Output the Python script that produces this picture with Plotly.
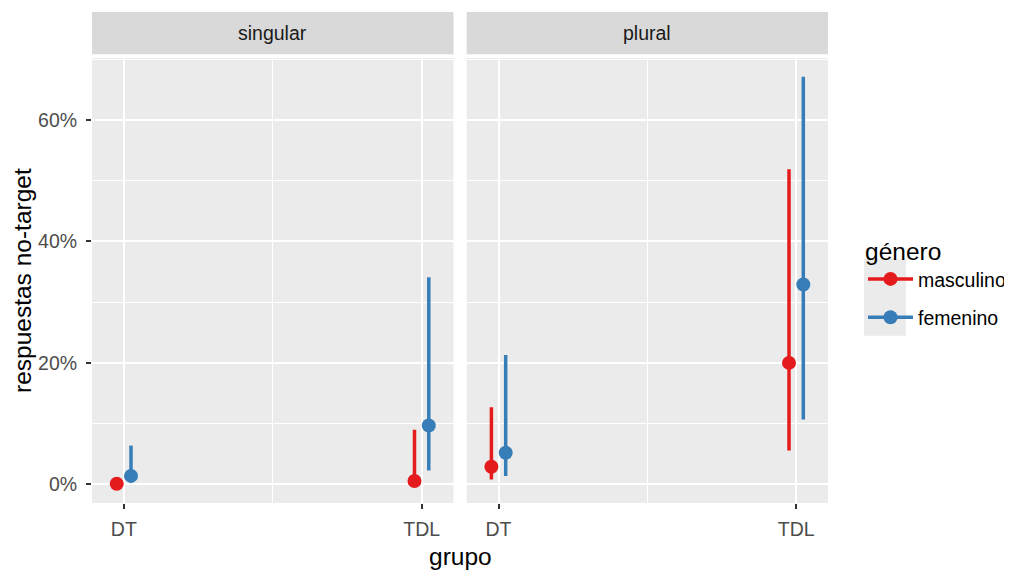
import plotly.graph_objects as go

# ---- data ----
grupos = ["DT", "TDL"]
paneles = ["singular", "plural"]
generos = ["masculino", "femenino"]
colores = {"masculino": "#E41A1C", "femenino": "#377EB8"}

# proportion of non-target responses, lower and upper CI bounds
masc_singular = [0.001, 0.0055]
masc_singular_lo = [0.0, 0.0]
masc_singular_hi = [0.004, 0.090]

fem_singular = [0.014, 0.097]
fem_singular_lo = [0.003, 0.023]
fem_singular_hi = [0.064, 0.341]

masc_plural = [0.029, 0.200]
masc_plural_lo = [0.008, 0.056]
masc_plural_hi = [0.127, 0.519]

fem_plural = [0.052, 0.329]
fem_plural_lo = [0.014, 0.107]
fem_plural_hi = [0.213, 0.671]

series = {
    ("singular", "masculino"): (masc_singular, masc_singular_lo, masc_singular_hi),
    ("singular", "femenino"): (fem_singular, fem_singular_lo, fem_singular_hi),
    ("plural", "masculino"): (masc_plural, masc_plural_lo, masc_plural_hi),
    ("plural", "femenino"): (fem_plural, fem_plural_lo, fem_plural_hi),
}

dodge = {"masculino": -0.024, "femenino": 0.024}

FONT = "Liberation Sans, Arial, sans-serif"
TICK_SIZE = 19.5
TITLE_SIZE = 24.5

# the page body has an 8px default margin: the figure is sized to fit the window
W, H = 1004, 563
ML, MR, MT, MB = 84, 184, 4, 67.7
PW = W - ML - MR
PH = H - MT - MB


def px_x(p):  # page x pixel -> paper x
    return (p - 8 - ML) / PW


def px_y(p):  # page y pixel -> paper y
    return (H - MB - (p - 8)) / PH


fig = go.Figure()

for pi, panel in enumerate(paneles):
    xa = "x" if pi == 0 else "x2"
    ya = "y" if pi == 0 else "y2"
    for gen in generos:
        vals, lo, hi = series[(panel, gen)]
        xs, ys, ep, em = [], [], [], []
        for ci, cat in enumerate(grupos):
            if ci > 0:
                xs.append(None); ys.append(None); ep.append(0); em.append(0)
            xs.append(ci + 1 + dodge[gen])
            ys.append(vals[ci])
            ep.append(hi[ci] - vals[ci])
            em.append(vals[ci] - lo[ci])
        fig.add_trace(go.Scatter(
            x=xs, y=ys, xaxis=xa, yaxis=ya,
            mode="lines+markers",
            connectgaps=False,
            name=gen, legendgroup=gen, showlegend=(pi == 0),
            line=dict(color=colores[gen], width=3.5),
            marker=dict(color=colores[gen], size=14),
            error_y=dict(type="data", array=ep, arrayminus=em, symmetric=False,
                         width=0, thickness=3.5, color=colores[gen]),
            hovertemplate="%{y:.1%}<extra>" + gen + "</extra>",
        ))

PANEL_TOP = px_y(58)
dom1 = [0, 361.5 / PW]
dom2 = [374.7 / PW, 1]
xrange = [0.893, 2.107]
yrange = [-0.0306, 0.702]

axis_common = dict(
    showgrid=True, gridcolor="white", gridwidth=2,
    zeroline=False, showline=False,
    ticks="outside", ticklen=5, tickwidth=2, tickcolor="#333333",
    tickfont=dict(family=FONT, size=TICK_SIZE, color="#4D4D4D"),
)

xcommon = dict(axis_common, range=xrange, tickmode="array", tickvals=[1, 2],
               ticktext=grupos, ticklabelstandoff=4,
               minor=dict(tickmode="array", tickvals=[1.5], gridcolor="white",
                          gridwidth=1, showgrid=True, ticks=""))
ycommon = dict(axis_common, range=yrange, tickmode="array",
               tickvals=[0, 0.2, 0.4, 0.6], tickformat=".0%", ticklabelstandoff=5,
               minor=dict(tickmode="array", tickvals=[0.1, 0.3, 0.5, 0.7],
                          gridcolor="white", gridwidth=1, showgrid=True, ticks=""))

fig.update_layout(
    width=W, height=H,
    margin=dict(l=ML, r=MR, t=MT, b=MB, autoexpand=False),
    paper_bgcolor="white", plot_bgcolor="white",
    font=dict(family=FONT, color="black"),
    xaxis=dict(xcommon, domain=dom1, anchor="y"),
    xaxis2=dict(xcommon, domain=dom2, anchor="y2"),
    yaxis=dict(ycommon, domain=[0, PANEL_TOP], anchor="x"),
    yaxis2=dict(ycommon, domain=[0, PANEL_TOP], anchor="x2", matches="y",
                showticklabels=False, ticks=""),
    showlegend=True,
    legend=dict(
        title=dict(text="género", font=dict(family=FONT, size=TITLE_SIZE, color="black")),
        font=dict(family=FONT, size=TICK_SIZE, color="black"),
        x=px_x(863), y=px_y(228), xanchor="left", yanchor="top",
        bgcolor="rgba(0,0,0,0)", tracegroupgap=10,
        itemwidth=45,
    ),
    hovermode="closest",
)

shapes = []
# panel backgrounds
for xd in ("x domain", "x2 domain"):
    shapes.append(dict(type="rect", xref=xd, yref="y domain", x0=0, x1=1, y0=0, y1=1,
                       fillcolor="#EBEBEB", line=dict(width=0), layer="below"))
# strips
STRIP_Y0 = px_y(54.3)
for d in (dom1, dom2):
    shapes.append(dict(type="rect", xref="paper", yref="paper", x0=d[0], x1=d[1],
                       y0=STRIP_Y0, y1=1, fillcolor="#D9D9D9", line=dict(width=0),
                       layer="below"))
# legend key background
shapes.append(dict(type="rect", xref="paper", yref="paper", x0=px_x(864), x1=px_x(906),
                   y0=px_y(336), y1=px_y(259), fillcolor="#EBEBEB", line=dict(width=0),
                   layer="below"))
fig.update_layout(shapes=shapes)

annotations = []
for d, label in zip((dom1, dom2), paneles):
    annotations.append(dict(text=label, xref="paper", yref="paper",
                            x=(d[0] + d[1]) / 2, y=(STRIP_Y0 + 1) / 2,
                            xanchor="center", yanchor="middle", showarrow=False,
                            font=dict(family=FONT, size=TICK_SIZE, color="#1A1A1A")))
annotations.append(dict(text="grupo", xref="paper", yref="paper", x=0.5, y=px_y(541),
                        xanchor="center", yanchor="top", showarrow=False,
                        font=dict(family=FONT, size=TITLE_SIZE, color="black")))
annotations.append(dict(text="respuestas no-target", xref="paper", yref="paper",
                        x=px_x(22.5), y=PANEL_TOP / 2, xanchor="center", yanchor="middle",
                        textangle=-90, showarrow=False,
                        font=dict(family=FONT, size=TITLE_SIZE, color="black")))
fig.update_layout(annotations=annotations)

fig.write_html("out.html")
